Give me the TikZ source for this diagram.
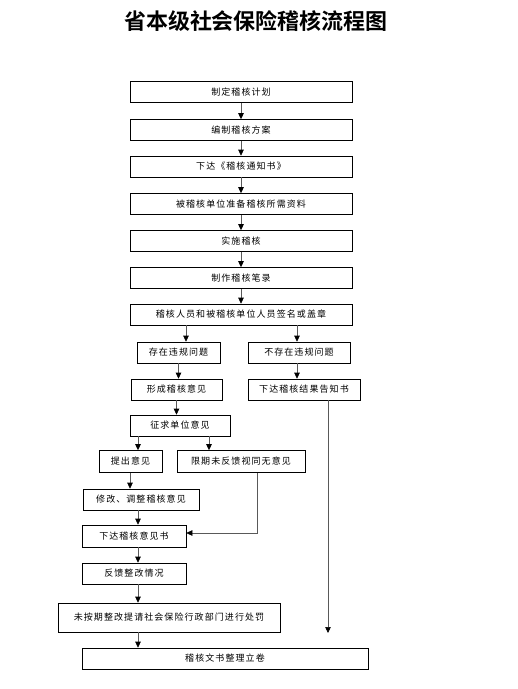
\documentclass[tikz,border=0pt]{standalone}
\usepackage{fontspec}
\usetikzlibrary{arrows.meta,calc}
\newfontfamily\cjkbody{Noto Sans CJK SC}[LetterSpace=12]
\newfontfamily\cjkhead{Noto Sans CJK SC Bold}

\begin{document}
\begin{tikzpicture}[x=1pt, y=-1pt,
    box/.style={draw, line width=0.6pt, minimum height=21pt, inner sep=0pt, text=black, font={\cjkbody\fontsize{9}{10}\selectfont}},
    wide/.style={box, minimum width=222pt},
    arr/.style={-{Triangle[length=6pt, width=5.5pt, color=black]}, line width=0.6pt, draw=black!65}
  ]
  \useasboundingbox[fill=white] (0,0) rectangle (518,689);

  % title
  \node[font={\cjkhead\fontsize{22}{24}\selectfont}] (title) at (256,21) {省本级社会保险稽核流程图};

  % main column
  \node[wide] (plan)    at (241,92)    {制定稽核计划};
  \node[wide] (scheme)  at (241,130)   {编制稽核方案};
  \node[wide] (notify)  at (241,166.5) {下达《稽核通知书》};
  \node[wide] (prepare) at (241,204)   {被稽核单位准备稽核所需资料};
  \node[wide] (audit)   at (241,241)   {实施稽核};
  \node[wide] (record)  at (241,278)   {制作稽核笔录};
  \node[wide] (sign)    at (241,314.5) {稽核人员和被稽核单位人员签名或盖章};

  % two branches
  \node[box, minimum width=83pt]  (exist)    at (178.5,352.5) {存在违规问题};
  \node[box, minimum width=102pt] (noissue)  at (299,352.5)   {不存在违规问题};
  \node[box, minimum width=91pt]  (opinion)  at (176.5,389.5) {形成稽核意见};
  \node[box, minimum width=112pt] (result)   at (304,389.5)   {下达稽核结果告知书};
  \node[box, minimum width=100pt] (solicit)  at (180,425.5)   {征求单位意见};
  \node[box, minimum width=63pt, minimum height=22pt]  (raise)    at (130.5,461.5) {提出意见};
  \node[box, minimum width=128pt, minimum height=22pt] (deadline) at (241,461.5)   {限期未反馈视同无意见};
  \node[box, minimum width=116pt] (revise)   at (141,499.5)   {修改、调整稽核意见};
  \node[box, minimum width=104pt, minimum height=22pt] (issue) at (134,536) {下达稽核意见书};
  \node[box, minimum width=104pt] (feedback) at (134,573.5)   {反馈整改情况};
  \node[box, minimum width=222pt, minimum height=29pt] (penalty) at (169,617.5) {未按期整改提请社会保险行政部门进行处罚};
  \node[box, minimum width=286pt] (archive)  at (225,658.5)   {稽核文书整理立卷};

  % column guides and free end
  \coordinate (colL) at (138,0);
  \coordinate (colR) at (297,0);
  \coordinate (endR) at (328,633);

  % connectors
  \foreach \a/\b in {plan/scheme, scheme/notify, notify/prepare, prepare/audit, audit/record, record/sign}
    \draw[arr] (\a) -- (\b);

  \draw[arr] ($(sign.south -| exist)+(7.5,0)$) -- ($(exist.north)+(7.5,0)$);
  \draw[arr] (sign.south -| colR) -- (noissue.north -| colR);
  \draw[arr] (exist.south) -- (exist.south |- opinion.north);
  \draw[arr] (noissue.south -| colR) -- (result.north -| colR);
  \draw[arr] (opinion.south) -- (opinion.south |- solicit.north);
  \draw[arr] (solicit.south -| colL) -- (raise.north -| colL);
  \draw[arr] ($(solicit.south)+(29,0)$) -- ($(solicit.south |- deadline.north)+(29,0)$);
  \draw[arr] ($(raise.south)+(-0.5,0)$) -- ($(raise.south |- revise.north)+(-0.5,0)$);
  \draw[arr] (revise.south -| colL) -- (issue.north -| colL);
  \draw[arr] ($(deadline.south)+(16,0)$) |- ($(issue.east)+(0,-3)$);
  \draw[arr] (issue.south -| colL) -- (feedback.north -| colL);
  \draw[arr] (feedback.south -| colL) -- (penalty.north -| colL);
  \draw[arr] (penalty.south -| colL) -- (archive.north -| colL);
  \draw[arr] (result.south -| endR) -- (endR);
\end{tikzpicture}
\end{document}
